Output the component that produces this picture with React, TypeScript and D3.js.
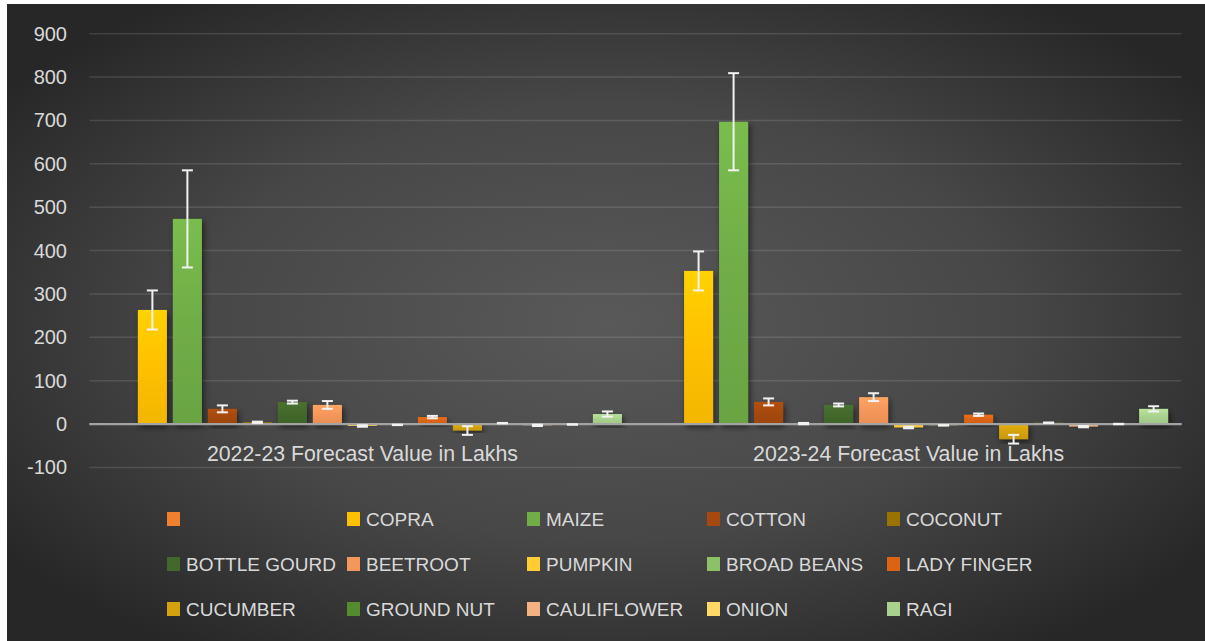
import React from "react";
import * as d3 from "d3";

const categories = ["2022-23 Forecast Value in Lakhs", "2023-24 Forecast Value in Lakhs"];
const seriesNames = [
  "", "COPRA", "MAIZE", "COTTON", "COCONUT",
  "BOTTLE GOURD", "BEETROOT", "PUMPKIN", "BROAD BEANS", "LADY FINGER",
  "CUCUMBER", "GROUND NUT", "CAULIFLOWER", "ONION", "RAGI",
];
const values2022: (number | null)[] = [null, 263, 473, 35, 4, 50.5, 44, -4.5, -2, 16, -15, 2, -3, -1, 23];
const values2023: (number | null)[] = [null, 353, 697, 51, 1, 44, 62, -8, -3, 21.5, -35, 3, -6, 0, 35];
const errorValues: (number | null)[] = [null, 45, 112, 8, 1.5, 3.3, 9, 1.75, 0.5, 2.75, 10, 0.5, 1.5, 0.5, 6];
const yTicks = [-100, 0, 100, 200, 300, 400, 500, 600, 700, 800, 900];

const seriesColors = [
  "#F07F2E", "#FFC000", "#70AD47", "#A5490E", "#997300",
  "#43682B", "#F5975A", "#FFCD33", "#8CC168", "#DB6414",
  "#D4A20A", "#558B2F", "#F4B183", "#FFD966", "#A9D18E",
];

const W = 1205;
const H = 641;
const FONT = "'Liberation Sans', Arial, sans-serif";
const TEXT = "#D9D9D9";

export default function App() {
  const valuesByCat = [values2022, values2023];
  const x0 = d3.scaleBand<string>().domain(categories).range([89.3, 1181.7]).padding(0);
  const x1 = d3
    .scaleBand<string>()
    .domain(seriesNames.map((_, i) => String(i)))
    .range([0, x0.bandwidth()])
    .paddingInner(6 / 35)
    .paddingOuter(0.388);
  const y = d3.scaleLinear().domain([-100, 900]).range([467.4, 33.7]);
  const [xL, xR] = x0.range();
  const bw = x1.bandwidth();
  const capW = 11;

  return (
    <svg
      width={W}
      height={H}
      style={{ position: "absolute", left: 0, top: 0, display: "block" }}
    >
      <defs>
        <radialGradient id="bg" cx="50%" cy="50%" r="62%">
          <stop offset="0%" stopColor="#595959" />
          <stop offset="55%" stopColor="#474747" />
          <stop offset="100%" stopColor="#272727" />
        </radialGradient>
        {seriesColors.map((c, i) => (
          <linearGradient key={i} id={`sg${i}`} x1="0" y1="0" x2="0" y2="1">
            <stop offset="0%" stopColor={d3.color(c)!.brighter(0.25).formatHex()} />
            <stop offset="50%" stopColor={c} />
            <stop offset="100%" stopColor={d3.color(c)!.darker(0.15).formatHex()} />
          </linearGradient>
        ))}
        <filter id="shadow" x="-30%" y="-30%" width="160%" height="160%">
          <feDropShadow dx="2" dy="3" stdDeviation="3" floodColor="#000" floodOpacity="0.55" />
        </filter>
      </defs>

      <rect x={0} y={0} width={W} height={H} fill="#ffffff" />
      <rect x={7} y={4} width={W - 7} height={H - 4} fill="url(#bg)" />

      {/* gridlines */}
      {yTicks.map((t) => (
        <line
          key={`g${t}`}
          x1={xL}
          x2={xR}
          y1={y(t)}
          y2={y(t)}
          stroke="rgba(255,255,255,0.12)"
          strokeWidth={1.5}
        />
      ))}

      {/* y tick labels */}
      {yTicks.map((t) => (
        <text
          key={`t${t}`}
          x={67}
          y={y(t)}
          textAnchor="end"
          dominantBaseline="central"
          fontFamily={FONT}
          fontSize={20}
          fill={TEXT}
        >
          {t}
        </text>
      ))}

      {/* bars */}
      {categories.map((cat, ci) => (
        <g key={cat} transform={`translate(${x0(cat)},0)`}>
          {valuesByCat[ci].map((v, si) => {
            if (v === null) return null;
            const bx = x1(String(si))!;
            const top = y(Math.max(0, v));
            const bot = y(Math.min(0, v));
            return (
              <rect
                key={si}
                x={bx}
                y={top}
                width={bw}
                height={Math.max(0.5, bot - top)}
                fill={`url(#sg${si})`}
                filter="url(#shadow)"
              />
            );
          })}
        </g>
      ))}

      {/* zero line */}
      <line x1={xL} x2={xR} y1={y(0)} y2={y(0)} stroke="#A3A3A3" strokeWidth={2.2} />

      {/* error bars */}
      {categories.map((cat, ci) => (
        <g key={`e${cat}`} transform={`translate(${x0(cat)},0)`}>
          {valuesByCat[ci].map((v, si) => {
            const e = errorValues[si];
            if (v === null || e === null) return null;
            const cx = x1(String(si))! + bw / 2;
            const yt = y(v + e);
            const yb = y(v - e);
            return (
              <g key={si} stroke="#F2F2F2" strokeWidth={2}>
                <line x1={cx} x2={cx} y1={yt} y2={yb} />
                <line x1={cx - capW / 2} x2={cx + capW / 2} y1={yt} y2={yt} />
                <line x1={cx - capW / 2} x2={cx + capW / 2} y1={yb} y2={yb} />
              </g>
            );
          })}
        </g>
      ))}

      {/* category labels */}
      {categories.map((cat) => (
        <text
          key={`c${cat}`}
          x={x0(cat)! + x0.bandwidth() / 2}
          y={454}
          textAnchor="middle"
          dominantBaseline="central"
          fontFamily={FONT}
          fontSize={21.3}
          fill={TEXT}
        >
          {cat}
        </text>
      ))}

      {/* legend */}
      {seriesNames.map((name, i) => {
        const col = i % 5;
        const row = Math.floor(i / 5);
        const lx = 167 + col * 180;
        const ly = 519 + row * 45;
        return (
          <g key={`l${i}`}>
            <rect x={lx} y={ly - 7} width={13} height={14} fill={seriesColors[i]} />
            <text
              x={lx + 19}
              y={ly}
              dominantBaseline="central"
              fontFamily={FONT}
              fontSize={19}
              fill={TEXT}
            >
              {name}
            </text>
          </g>
        );
      })}
    </svg>
  );
}
